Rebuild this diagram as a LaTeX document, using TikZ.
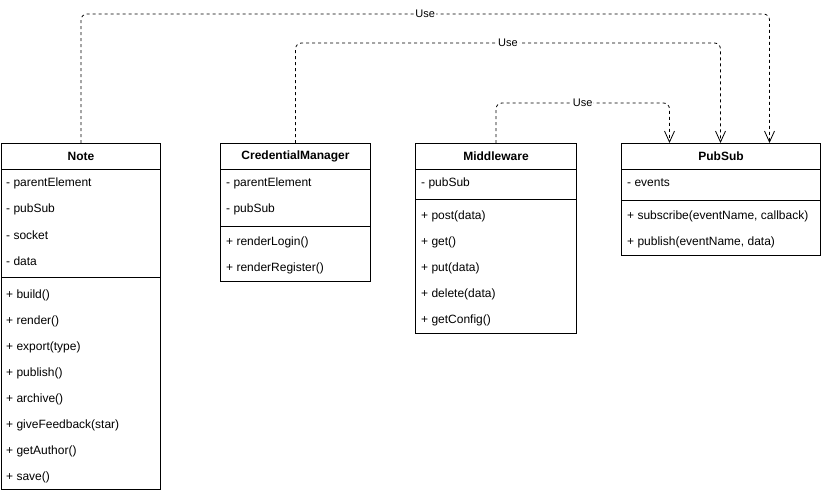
\documentclass[tikz,border=0pt]{standalone}
\usepackage{fontspec}
\setmainfont{Liberation Sans}
\usetikzlibrary{arrows.meta,calc}
\begin{document}
\begin{tikzpicture}[x=1pt,y=-1pt,
  box/.style={draw,line width=1pt,inner sep=0pt,anchor=north west},
  head/.style={font=\fontsize{12}{14}\selectfont\bfseries},
  item/.style={anchor=west,inner sep=0pt,font=\fontsize{12}{14}\selectfont},
  usearrow/.style={draw,line width=0.8pt,dash pattern=on 3pt off 3pt,rounded corners=6pt,-{Straight Barb[length=11pt,width=10pt,line width=0.8pt]}},
  uselabel/.style={fill=white,inner sep=1pt,font=\fontsize{11}{13}\selectfont}]
\useasboundingbox (0,0) rectangle (821,493);
% Note
\node[box,minimum width=159pt,minimum height=26pt,head] (note) at (1,143) {Note};
\node[box,minimum width=159pt,minimum height=108pt] (noteA) at (1,169) {};
\node[box,minimum width=159pt,minimum height=212pt] (noteM) at (1,277) {};
\foreach \t [count=\i] in {- parentElement,- pubSub,- socket,- data}
  \node[item] (noteA\i) at (6,157+26*\i) {\t};
\foreach \t [count=\i] in {+ build(),+ render(),+ export(type),+ publish(),+ archive(),+ giveFeedback(star),+ getAuthor(),+ save()}
  \node[item] (noteM\i) at (6,269+26*\i) {\t};
% CredentialManager
\node[box,minimum width=150pt,minimum height=26pt,head] (cred) at (220,143) {CredentialManager};
\node[box,minimum width=150pt,minimum height=57pt] (credA) at (220,169) {};
\node[box,minimum width=150pt,minimum height=55pt] (credM) at (220,226) {};
\node[item] (credA1) at (226,183) {- parentElement};
\node[item] (credA2) at (226,209) {- pubSub};
\node[item] (credM1) at (226,242) {+ renderLogin()};
\node[item] (credM2) at (226,268) {+ renderRegister()};
% Middleware
\node[box,minimum width=161pt,minimum height=26pt,head] (mid) at (415,143) {Middleware};
\node[box,minimum width=161pt,minimum height=30pt] (midA) at (415,169) {};
\node[box,minimum width=161pt,minimum height=134pt] (midM) at (415,199) {};
\node[item] (midA1) at (421,183) {- pubSub};
\foreach \t [count=\i] in {+ post(data),+ get(),+ put(data),+ delete(data),+ getConfig()}
  \node[item] (midM\i) at (421,190+26*\i) {\t};
% PubSub
\node[box,minimum width=199pt,minimum height=26pt,head] (ps) at (621,143) {PubSub};
\node[box,minimum width=199pt,minimum height=31pt] (psA) at (621,169) {};
\node[box,minimum width=199pt,minimum height=55pt] (psM) at (621,200) {};
\node[item] (psA1) at (627,183) {- events};
\node[item] (psM1) at (627,216) {+ subscribe(eventName, callback)};
\node[item] (psM2) at (627,242) {+ publish(eventName, data)};
% targets
\coordinate (t1) at ($(ps.north)+(48.5,0)$);
\coordinate (t2) at ($(ps.north)+(-0.5,0)$);
\coordinate (t3) at ($(ps.north)+(-51.5,0)$);
% connectors
\draw[usearrow] (note.north) -- (note.north |- 0,14) -- node[uselabel]{Use} (t1 |- 0,14) -- (t1);
\draw[usearrow] (cred.north) -- (cred.north |- 0,43) -- node[uselabel]{Use} (t2 |- 0,43) -- (t2);
\draw[usearrow] (mid.north) -- (mid.north |- 0,103) -- node[uselabel]{Use} (t3 |- 0,103) -- (t3);
\end{tikzpicture}
\end{document}
